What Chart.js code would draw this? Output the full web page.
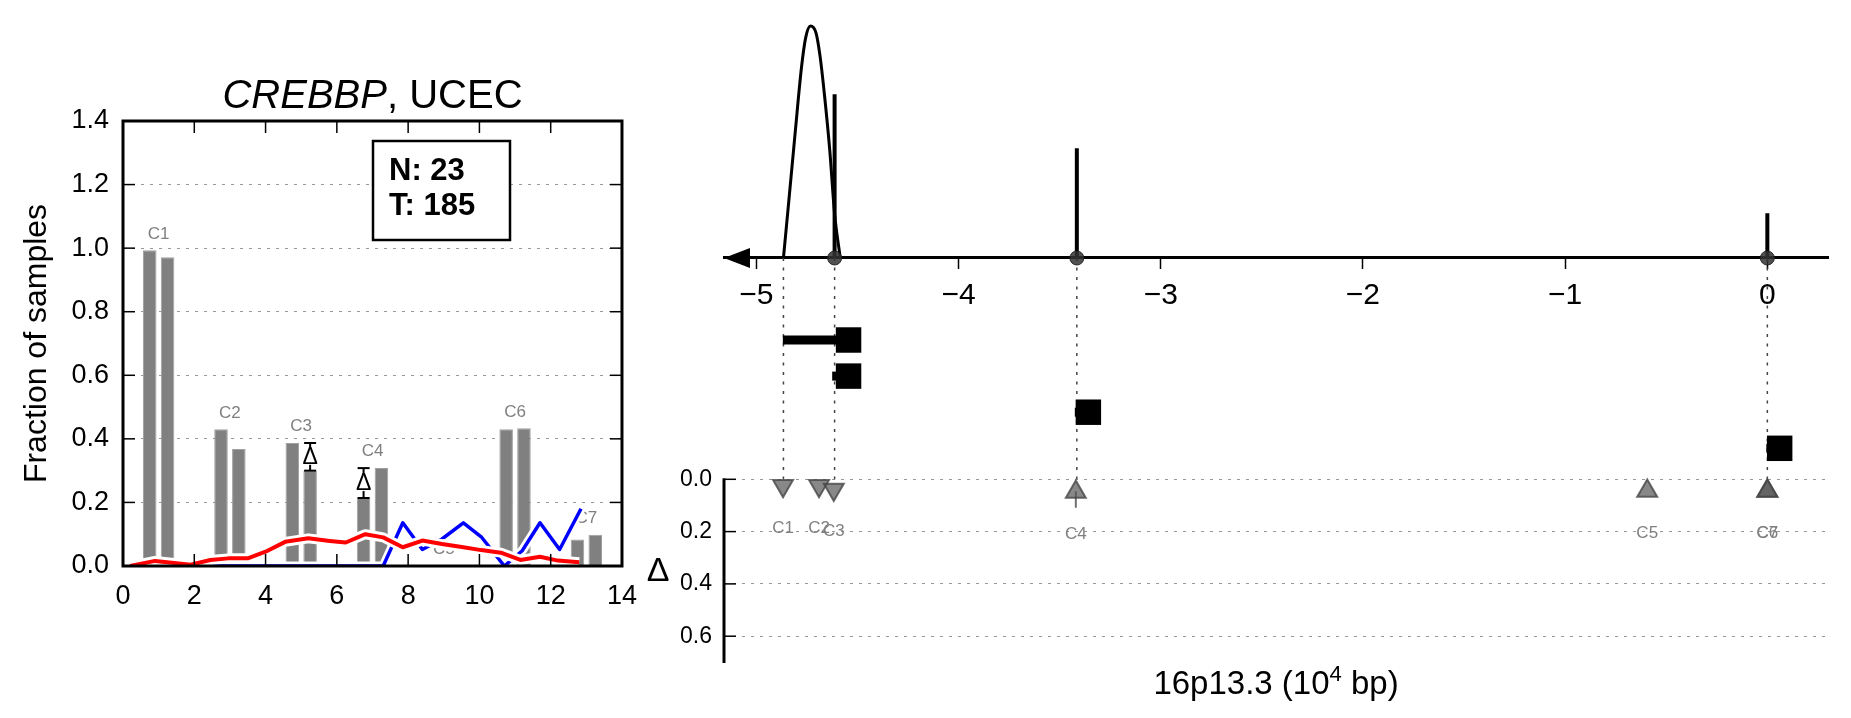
<!DOCTYPE html>
<html>
<head>
<meta charset="utf-8">
<script src="https://cdn.jsdelivr.net/npm/chart.js@4.4.1/dist/chart.umd.min.js"></script>
<style>
  html, body { margin: 0; padding: 0; background: #fff; }
  body { width: 1851px; height: 718px; position: relative; overflow: hidden; }
  canvas { position: absolute; top: 0; }
  #leftChart { left: 0; }
  #rightChart { left: 630px; }
</style>
</head>
<body>
<canvas id="leftChart" width="643" height="718"></canvas>
<canvas id="rightChart" width="1221" height="718"></canvas>
<script>
const FONT = '"Liberation Sans", Arial, Helvetica, sans-serif';

// left panel: fraction of samples per cluster, normal / tumour bar pairs
const clusterNames = ['C1', 'C2', 'C3', 'C4', 'C5', 'C6', 'C7'];
const clusterPos = [1, 3, 5, 7, 9, 11, 13];
const normalFrac = [0.993, 0.430, 0.387, 0.214, 0, 0.430, 0.083];
const tumorFrac = [0.971, 0.368, 0.300, 0.308, 0, 0.433, 0.098];
const deltaClusters = ['C3', 'C4'];
const countNormal = 23;
const countTumor = 185;

const redX = [0.2, 0.9, 1.9, 2.45, 2.95, 3.5, 4.0, 4.55, 5.2, 5.8, 6.25, 6.8, 7.3, 7.85, 8.4, 8.95, 9.55, 10.05, 10.6, 11.15, 11.7, 12.2, 12.8];
const redY = [0.000, 0.016, 0.004, 0.019, 0.024, 0.024, 0.045, 0.076, 0.087, 0.079, 0.074, 0.100, 0.090, 0.059, 0.080, 0.069, 0.059, 0.050, 0.042, 0.019, 0.029, 0.017, 0.012];
const blueX = [0.2, 7.3, 7.85, 8.4, 8.95, 9.55, 10.05, 10.7, 11.2, 11.7, 12.25, 12.85];
const blueY = [0, 0, 0.136, 0.052, 0.085, 0.136, 0.092, 0.0, 0.048, 0.136, 0.052, 0.18];

const leftXTicks = [0, 2, 4, 6, 8, 10, 12, 14];
const leftYTicks = [0, 0.2, 0.4, 0.6, 0.8, 1.0, 1.2, 1.4];

// right panel: 16p13.3 track (10^4 bp)
const rightXTicks = [-5, -4, -3, -2, -1, 0];
const deltaTicks = [0, 0.2, 0.4, 0.6];

const bellX = [-4.866, -4.839, -4.808, -4.777, -4.756, -4.732, -4.705, -4.685, -4.664, -4.637, -4.613, -4.585];
const bellY = [0, 0.25, 0.54, 0.82, 0.95, 1.0, 0.97, 0.87, 0.71, 0.465, 0.19, 0];
const spikeX = [-4.613, -3.415, 0.0];
const spikeH = [0.706, 0.473, 0.193];

const segRow = [1, 2, 3, 4];
const segStart = [-4.869, -4.625, -3.425, -0.005];
const segEnd = [-4.544, -4.544, -3.358, 0.061];
const guideX = [-4.866, -4.613, -3.415, 0.0];

const deltaNames = ['C1', 'C2', 'C3', 'C4', 'C5', 'C6', 'C7'];
const deltaPos = [-4.868, -4.69, -4.617, -3.42, -0.594, 0.0, 0.0];
const deltaVal = [0.025, 0.025, 0.039, 0.049, 0.045, 0.045, 0.045];
const deltaUp = [false, false, false, true, true, true, true];
const deltaErr = [0, 0, 0, 0.057, 0, 0, 0];

Chart.defaults.font.family = FONT;
Chart.defaults.color = '#000';

function fixedTicks(values) {
    return scale => { scale.ticks = values.map(v => ({value: v})); };
}

function lineSet(xs, ys, color, width, order, axis) {
    return {
        type: 'line',
        yAxisID: axis || 'y',
        data: xs.map((v, i) => ({x: v, y: ys[i]})),
        borderColor: color,
        borderWidth: width,
        pointRadius: 0,
        tension: 0,
        borderJoinStyle: 'round',
        order: order
    };
}

const barStyle = {
    type: 'bar',
    backgroundColor: '#808080',
    borderColor: '#a0a0a0',
    borderWidth: 1,
    grouped: false,
    barPercentage: 0.76,
    categoryPercentage: 1.0,
    order: 10
};
const barPoints = (vals, off) => clusterPos.map((p, i) => ({x: p + off, y: vals[i]})).filter(d => d.y > 0);

function tickLine(ctx, x1, y1, x2, y2) {
    ctx.beginPath();
    ctx.moveTo(x1, y1);
    ctx.lineTo(x2, y2);
    ctx.stroke();
}

const leftDecor = {
    id: 'leftDecor',
    beforeDatasetsDraw(chart) {
        const {ctx, scales: {x, y}} = chart;
        ctx.save();
        ctx.font = '17px ' + FONT;
        ctx.fillStyle = '#808080';
        ctx.textAlign = 'center';
        ctx.textBaseline = 'alphabetic';
        clusterNames.forEach((name, i) => {
            const top = Math.max(normalFrac[i], tumorFrac[i]);
            ctx.fillText(name, x.getPixelForValue(clusterPos[i]), y.getPixelForValue(top + 0.037));
        });
        ctx.restore();
    },
    afterDatasetsDraw(chart) {
        const {ctx, chartArea: a, scales: {x, y}} = chart;
        ctx.save();
        // delta markers between the two bars of a pair
        deltaClusters.forEach(name => {
            const i = clusterNames.indexOf(name);
            const lo = Math.min(normalFrac[i], tumorFrac[i]);
            const hi = Math.max(normalFrac[i], tumorFrac[i]);
            const xv = normalFrac[i] < tumorFrac[i] ? clusterPos[i] - 0.25 : clusterPos[i] + 0.25;
            const px = x.getPixelForValue(xv);
            const p1 = y.getPixelForValue(lo);
            const p2 = y.getPixelForValue(hi);
            ctx.strokeStyle = '#000';
            ctx.lineWidth = 2;
            tickLine(ctx, px, p1, px, p2);
            tickLine(ctx, px - 6, p1, px + 6, p1);
            tickLine(ctx, px - 6, p2, px + 6, p2);
            const mid = (p1 + p2) / 2;
            ctx.fillStyle = '#fff';
            ctx.fillRect(px - 9, mid - 8, 18, 16);
            ctx.fillStyle = '#000';
            ctx.font = '23px ' + FONT;
            ctx.textAlign = 'center';
            ctx.textBaseline = 'middle';
            ctx.fillText('\u0394', px, mid + 1);
        });
        // spines
        ctx.strokeStyle = '#000';
        ctx.lineWidth = 3;
        ctx.strokeRect(a.left, a.top, a.width, a.height);
        // inward ticks
        ctx.lineWidth = 1.5;
        leftXTicks.forEach(v => {
            const px = x.getPixelForValue(v);
            tickLine(ctx, px, a.bottom, px, a.bottom - 12);
            tickLine(ctx, px, a.top, px, a.top + 12);
        });
        leftYTicks.forEach(v => {
            const py = y.getPixelForValue(v);
            tickLine(ctx, a.left, py, a.left + 12, py);
            tickLine(ctx, a.right, py, a.right - 12, py);
        });
        // N / T box
        const bx = a.left + 250, by = a.top + 20;
        ctx.fillStyle = '#fff';
        ctx.fillRect(bx, by, 137, 99);
        ctx.lineWidth = 2.5;
        ctx.strokeRect(bx, by, 137, 99);
        ctx.fillStyle = '#000';
        ctx.font = 'bold 31px ' + FONT;
        ctx.textAlign = 'left';
        ctx.textBaseline = 'alphabetic';
        ctx.fillText('N: ' + countNormal, bx + 16, by + 39);
        ctx.fillText('T: ' + countTumor, bx + 16, by + 74);
        ctx.restore();
    },
    afterDraw(chart) {
        const {ctx, chartArea: a} = chart;
        ctx.save();
        ctx.fillStyle = '#000';
        ctx.textBaseline = 'alphabetic';
        ctx.textAlign = 'left';
        ctx.font = 'italic 40px ' + FONT;
        const w1 = ctx.measureText('CREBBP').width;
        ctx.font = '40px ' + FONT;
        const w2 = ctx.measureText(', UCEC').width;
        const x0 = (a.left + a.right) / 2 - (w1 + w2) / 2;
        ctx.font = 'italic 40px ' + FONT;
        ctx.fillText('CREBBP', x0, a.top - 13);
        ctx.font = '40px ' + FONT;
        ctx.fillText(', UCEC', x0 + w1, a.top - 13);
        ctx.restore();
    }
};

new Chart(document.getElementById('leftChart'), {
    type: 'bar',
    data: {
        datasets: [
            {...barStyle, data: barPoints(normalFrac, -0.25)},
            {...barStyle, data: barPoints(tumorFrac, 0.25)},
            lineSet(blueX, blueY, '#ffffff', 9, 9),
            lineSet(blueX, blueY, '#0000ff', 3.5, 8),
            lineSet(redX, redY, '#ffffff', 10, 7),
            lineSet(redX, redY, '#ff0000', 4, 6)
        ]
    },
    options: {
        responsive: false,
        animation: false,
        devicePixelRatio: 1,
        layout: {padding: {left: 14, right: 20, top: 121, bottom: 92}},
        plugins: {legend: {display: false}, tooltip: {enabled: false}},
        scales: {
            x: {
                type: 'linear', min: 0, max: 14, offset: false,
                afterBuildTicks: fixedTicks(leftXTicks),
                afterFit: s => { s.height = 60; },
                grid: {display: false, offset: false},
                border: {display: false},
                ticks: {font: {size: 27}, color: '#000', padding: 6, maxRotation: 0, autoSkip: false, callback: v => String(v)}
            },
            y: {
                type: 'linear', min: 0, max: 1.4,
                afterBuildTicks: fixedTicks(leftYTicks),
                afterFit: s => { s.width = 109; },
                grid: {
                    drawTicks: false, lineWidth: 1,
                    color: c => (c.tick && c.tick.value > 0.01 && c.tick.value < 1.39) ? '#999999' : 'rgba(0,0,0,0)'
                },
                border: {display: false, dash: [3, 6]},
                ticks: {font: {size: 27}, color: '#000', padding: 14, callback: v => Number(v).toFixed(1)},
                title: {display: true, text: 'Fraction of samples', font: {size: 32}, color: '#000', padding: {top: 4, bottom: 0}}
            }
        }
    },
    plugins: [leftDecor]
});

const rightDecor = {
    id: 'rightDecor',
    beforeDatasetsDraw(chart) {
        const {ctx, scales: {x, y, yDelta}} = chart;
        const top = y.getPixelForValue(0);
        const bottom = yDelta.getPixelForValue(0);
        ctx.save();
        ctx.strokeStyle = '#444';
        ctx.lineWidth = 1.5;
        ctx.setLineDash([3, 6.5]);
        guideX.forEach(g => {
            const px = x.getPixelForValue(g);
            tickLine(ctx, px, top, px, bottom);
        });
        ctx.restore();
    },
    afterDatasetsDraw(chart) {
        const {ctx, chartArea: a, scales: {x, y, yDelta}} = chart;
        ctx.save();
        // arrow head at the left end of the track axis
        const yb = y.getPixelForValue(0);
        ctx.fillStyle = '#000';
        ctx.beginPath();
        ctx.moveTo(a.left, yb);
        ctx.lineTo(a.left + 26, yb - 10);
        ctx.lineTo(a.left + 26, yb + 10);
        ctx.closePath();
        ctx.fill();
        // delta axis spine and inward ticks
        const d0 = yDelta.getPixelForValue(0);
        ctx.strokeStyle = '#000';
        ctx.lineWidth = 3;
        tickLine(ctx, a.left, d0 - 1, a.left, a.bottom);
        ctx.lineWidth = 1.5;
        deltaTicks.forEach(v => {
            const py = yDelta.getPixelForValue(v);
            tickLine(ctx, a.left, py, a.left + 12, py);
        });
        // delta axis label
        ctx.font = '34px ' + FONT;
        ctx.textAlign = 'center';
        ctx.textBaseline = 'middle';
        ctx.fillText('\u0394', a.left - 66, (d0 + a.bottom) / 2);
        // cluster labels under the triangles
        ctx.font = '17px ' + FONT;
        ctx.fillStyle = '#808080';
        deltaNames.forEach((n, i) => {
            ctx.fillText(n, x.getPixelForValue(deltaPos[i]), yDelta.getPixelForValue(deltaVal[i]) + 42);
        });
        // x axis title with superscript
        ctx.fillStyle = '#000';
        ctx.textBaseline = 'alphabetic';
        ctx.textAlign = 'left';
        const big = '33px ' + FONT, small = '22px ' + FONT;
        const parts = [['16p13.3 (10', big, 0], ['4', small, -13], [' bp)', big, 0]];
        let total = 0;
        parts.forEach(p => { ctx.font = p[1]; total += ctx.measureText(p[0]).width; });
        let tx = (a.left + a.right) / 2 - total / 2;
        const base = a.bottom + 31;
        parts.forEach(p => {
            ctx.font = p[1];
            ctx.fillText(p[0], tx, base + p[2]);
            tx += ctx.measureText(p[0]).width;
        });
        ctx.restore();
    }
};

const rightSets = [];
rightSets.push({...lineSet(bellX, bellY, '#000', 3, 5), cubicInterpolationMode: 'monotone', clip: false});
spikeX.forEach((s, i) => rightSets.push(lineSet([s, s], [0, spikeH[i]], '#000', 4, 4)));
rightSets.push({
    type: 'scatter', yAxisID: 'y',
    data: spikeX.map(s => ({x: s, y: 0})),
    pointRadius: 7, backgroundColor: 'rgba(50,50,50,0.85)', borderColor: 'rgba(30,30,30,0.9)', borderWidth: 1, order: 3
});
segRow.forEach((r, i) => rightSets.push({...lineSet([segStart[i], segEnd[i]], [r, r], '#000', 9, 2, 'yRow'), borderCapStyle: 'butt'}));
rightSets.push({
    type: 'scatter', yAxisID: 'yRow',
    data: segEnd.map((e, i) => ({x: e, y: segRow[i]})),
    pointStyle: 'rect', pointRadius: 18, backgroundColor: '#000', borderWidth: 0, order: 1, clip: false
});
deltaErr.forEach((e, i) => {
    if (e > 0) rightSets.push(lineSet([deltaPos[i], deltaPos[i]], [deltaVal[i], deltaVal[i] + e], '#707070', 2, 2, 'yDelta'));
});
rightSets.push({
    type: 'scatter', yAxisID: 'yDelta',
    data: deltaPos.map((p, i) => ({x: p, y: deltaVal[i]})),
    pointStyle: 'triangle',
    pointRotation: deltaUp.map(u => u ? 0 : 180),
    pointRadius: 11.5,
    backgroundColor: 'rgba(85,85,85,0.7)',
    borderColor: 'rgba(70,70,70,0.8)',
    borderWidth: 2,
    order: 1,
    clip: false
});

new Chart(document.getElementById('rightChart'), {
    type: 'line',
    data: {datasets: rightSets},
    options: {
        responsive: false,
        animation: false,
        devicePixelRatio: 1,
        layout: {padding: {left: 4, right: 23, top: 26, bottom: 55}},
        plugins: {legend: {display: false}, tooltip: {enabled: false}},
        scales: {
            yDelta: {
                type: 'linear', position: 'left', reverse: true, min: -1.7335, max: 0.7025,
                afterBuildTicks: fixedTicks(deltaTicks),
                afterFit: s => { s.width = 90; },
                grid: {drawTicks: false, color: '#999999', lineWidth: 1},
                border: {display: false, dash: [3, 6]},
                ticks: {font: {size: 23}, color: '#000', padding: 12, callback: v => Number(v).toFixed(1)}
            },
            y: {type: 'linear', display: false, min: -1.7457, max: 1.0},
            yRow: {type: 'linear', display: false, reverse: true, min: -7.698, max: 9.947},
            x: {
                type: 'linear', min: -5.16, max: 0.30, position: {y: 0},
                afterBuildTicks: fixedTicks(rightXTicks),
                grid: {drawOnChartArea: false, drawTicks: true, tickLength: 10, tickWidth: 1.5, tickColor: '#000'},
                border: {display: true, width: 3, color: '#000'},
                ticks: {
                    font: {size: 30}, color: '#000', padding: 10, maxRotation: 0, autoSkip: false,
                    callback: v => v < 0 ? '\u2212' + Math.abs(v) : String(v)
                }
            }
        }
    },
    plugins: [rightDecor]
});
</script>
</body>
</html>
